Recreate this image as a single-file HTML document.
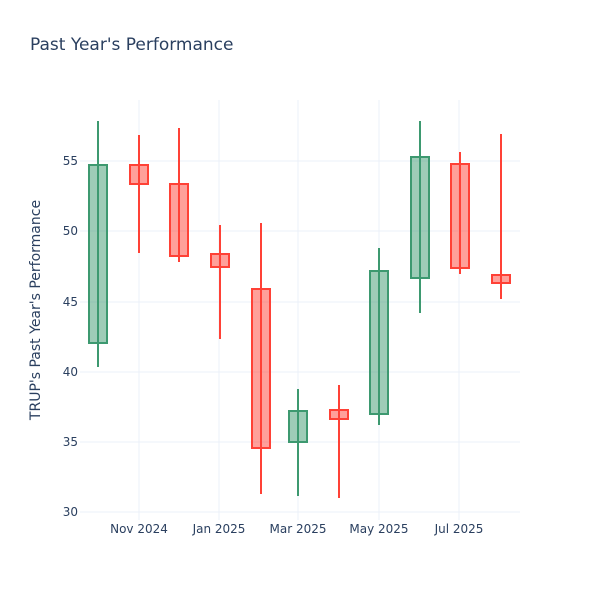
<!DOCTYPE html>
<html><head><style>body{margin:0;background:#fff}svg{display:block}</style></head><body>
<svg width="600" height="600" xmlns="http://www.w3.org/2000/svg" font-family="DejaVu Sans, sans-serif">
<rect width="600" height="600" fill="#fff"/>
<g stroke="#EBF0F8" stroke-width="1">
<line x1="80" x2="520" y1="512" y2="512"/><line x1="80" x2="520" y1="442" y2="442"/><line x1="80" x2="520" y1="372" y2="372"/><line x1="80" x2="520" y1="302" y2="302"/><line x1="80" x2="520" y1="231" y2="231"/><line x1="80" x2="520" y1="161" y2="161"/>
<line x1="139" x2="139" y1="100" y2="520"/><line x1="219" x2="219" y1="100" y2="520"/><line x1="298" x2="298" y1="100" y2="520"/><line x1="379" x2="379" y1="100" y2="520"/><line x1="459" x2="459" y1="100" y2="520"/>
</g>
<g font-size="12" fill="#2a3f5f" text-anchor="end">
<text x="78" y="516">30</text><text x="78" y="446">35</text><text x="78" y="376">40</text><text x="78" y="306">45</text><text x="78" y="235">50</text><text x="78" y="165">55</text>
</g>
<g font-size="12" fill="#2a3f5f" text-anchor="middle">
<text x="139" y="533">Nov 2024</text><text x="219" y="533">Jan 2025</text><text x="298" y="533">Mar 2025</text><text x="379" y="533">May 2025</text><text x="459" y="533">Jul 2025</text>
</g>
<text x="30" y="50" font-size="17" fill="#2a3f5f">Past Year's Performance</text>
<text transform="translate(40,310) rotate(-90)" font-size="14" fill="#2a3f5f" text-anchor="middle">TRUP's Past Year's Performance</text>
<g stroke-width="2">
<g stroke="#3D9970" fill="rgba(61,153,112,0.5)">
<line x1="98" x2="98" y1="121" y2="367"/><rect x="89" y="165" width="18" height="178"/>
<line x1="298" x2="298" y1="389" y2="496"/><rect x="289" y="411" width="18" height="31"/>
<line x1="379" x2="379" y1="248" y2="425"/><rect x="370" y="271" width="18" height="143"/>
<line x1="420" x2="420" y1="121" y2="313"/><rect x="411" y="157" width="18" height="121"/>
</g>
<g stroke="#FF4136" fill="rgba(255,65,54,0.5)">
<line x1="139" x2="139" y1="135" y2="253"/><rect x="130" y="165" width="18" height="19"/>
<line x1="179" x2="179" y1="128" y2="262"/><rect x="170" y="184" width="18" height="72"/>
<line x1="220" x2="220" y1="225" y2="339"/><rect x="211" y="254" width="18" height="13"/>
<line x1="261" x2="261" y1="223" y2="494"/><rect x="252" y="289" width="18" height="159"/>
<line x1="339" x2="339" y1="385" y2="498"/><rect x="330" y="410" width="18" height="9"/>
<line x1="460" x2="460" y1="152" y2="274"/><rect x="451" y="164" width="18" height="104"/>
<line x1="501" x2="501" y1="134" y2="299"/><rect x="492" y="275" width="18" height="8"/>
</g>
</g>
</svg>
</body></html>
